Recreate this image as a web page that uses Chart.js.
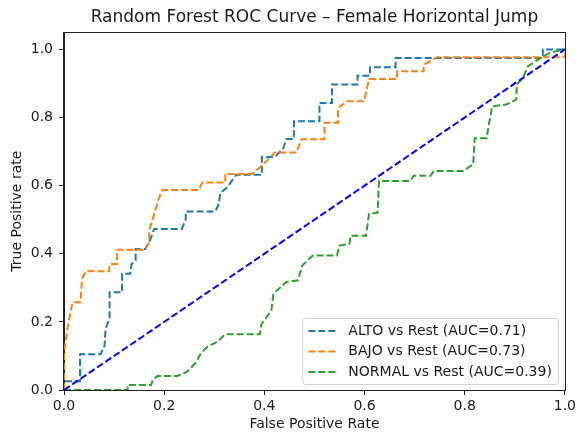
<!DOCTYPE html>
<html>
<head>
<meta charset="utf-8">
<script src="https://cdn.jsdelivr.net/npm/chart.js@4.4.1/dist/chart.umd.min.js"></script>
<style>
  html, body { margin: 0; padding: 0; background: #fff; }
  #wrap { width: 579px; height: 435px; }
</style>
</head>
<body>
<div id="wrap"><canvas id="roc" width="579" height="435"></canvas></div>
<script>
// ROC points
const altoFpr = [0,0,0.032,0.032,0.073,0.081,0.083,0.091,0.091,0.116,0.116,0.132,0.135,0.143,0.143,0.162,0.172,0.18,0.235,0.243,0.243,0.302,0.309,0.312,0.325,0.344,0.395,0.395,0.421,0.438,0.444,0.459,0.459,0.51,0.51,0.535,0.535,0.586,0.586,0.611,0.611,0.662,0.662,0.956,0.956,1];
const altoTpr = [0,0.026,0.026,0.105,0.105,0.13,0.18,0.21,0.287,0.287,0.341,0.341,0.37,0.38,0.414,0.414,0.44,0.473,0.473,0.5,0.524,0.524,0.546,0.578,0.594,0.632,0.632,0.684,0.684,0.711,0.737,0.737,0.789,0.789,0.843,0.843,0.897,0.897,0.923,0.923,0.948,0.948,0.975,0.975,1,1];

const bajoFpr = [0,0,0.008,0.017,0.033,0.036,0.044,0.09,0.091,0.106,0.106,0.162,0.17,0.17,0.19,0.197,0.269,0.276,0.322,0.322,0.375,0.391,0.421,0.464,0.474,0.52,0.52,0.547,0.547,0.566,0.599,0.609,0.665,0.665,0.718,0.718,0.745,1,1];
const bajoTpr = [0,0.108,0.19,0.258,0.258,0.327,0.349,0.349,0.37,0.37,0.412,0.412,0.434,0.468,0.565,0.587,0.587,0.609,0.609,0.634,0.634,0.653,0.697,0.697,0.736,0.736,0.785,0.785,0.828,0.848,0.848,0.913,0.913,0.936,0.936,0.955,0.977,0.977,1];

const normalFpr = [0,0.127,0.127,0.174,0.177,0.187,0.226,0.246,0.263,0.273,0.286,0.306,0.322,0.391,0.394,0.414,0.418,0.444,0.467,0.476,0.497,0.545,0.55,0.57,0.572,0.603,0.609,0.626,0.629,0.692,0.698,0.732,0.738,0.797,0.817,0.82,0.844,0.847,0.855,0.883,0.903,0.904,0.916,0.926,0.936,0.956,0.969,0.995,1];
const normalTpr = [0,0,0.015,0.015,0.029,0.041,0.041,0.054,0.08,0.107,0.127,0.141,0.164,0.164,0.193,0.234,0.283,0.317,0.322,0.366,0.395,0.395,0.424,0.429,0.453,0.453,0.517,0.521,0.614,0.614,0.629,0.629,0.643,0.643,0.663,0.739,0.739,0.77,0.833,0.838,0.853,0.897,0.916,0.95,0.96,0.979,0.989,1,1];

const chanceFpr = [0, 1];
const chanceTpr = [0, 1];

const classLabels = ['ALTO vs Rest (AUC=0.71)', 'BAJO vs Rest (AUC=0.73)', 'NORMAL vs Rest (AUC=0.39)'];
const yTicks = [0, 0.2, 0.4, 0.6, 0.8, 1.0];

const FONT = 'DejaVu Sans';
const DASH = [7, 3];
const TXT = '#1a1a1a';

function pts(xs, ys) {
    const out = [];
    const n = Math.min(xs.length, ys.length);
    for (let i = 0; i < n; i++) out.push({ x: xs[i], y: ys[i] });
    return out;
}

function curve(label, xs, ys, color, order) {
    return {
        label: label,
        data: pts(xs, ys),
        borderColor: color,
        backgroundColor: color,
        borderWidth: 2,
        borderDash: DASH,
        pointRadius: 0,
        tension: 0,
        fill: false,
        order: order
    };
}

// box around the axes (top and right spines) + legend in lower right
const framePlugin = {
    id: 'frame',
    afterLayout(chart) {
        // centre the title over the plot area, like matplotlib does
        const tb = chart.titleBlock;
        if (tb) {
            tb.left = chart.chartArea.left;
            tb.right = chart.chartArea.right;
            tb.width = tb.right - tb.left;
        }
    },
    afterDatasetsDraw(chart) {
        const ctx = chart.ctx;
        const ca = chart.chartArea;
        ctx.save();
        ctx.strokeStyle = '#222';
        ctx.lineWidth = 1;
        ctx.strokeRect(Math.round(ca.left) - 0.5, Math.round(ca.top) + 0.5,
                       Math.round(ca.right - ca.left) + 1, Math.round(ca.bottom - ca.top));

        // legend
        const items = chart.data.datasets.filter(d => !d.hideInLegend);
        ctx.font = '14px "' + FONT + '"';
        let tw = 0;
        items.forEach(d => { tw = Math.max(tw, ctx.measureText(d.label).width); });
        const rowH = 20.5;
        const w = 6 + 28 + 12 + tw + 6;
        const h = items.length * rowH + 4.5;
        const right = ca.right - 7, bottom = ca.bottom - 6;
        const left = right - w, top = bottom - h;
        ctx.beginPath();
        ctx.roundRect(left + 0.5, top + 0.5, w, h, 3);
        ctx.fillStyle = 'rgba(255,255,255,0.8)';
        ctx.fill();
        ctx.strokeStyle = '#d0d0d0';
        ctx.stroke();
        items.forEach((d, i) => {
            const y = top + 13 + i * rowH;
            ctx.beginPath();
            ctx.setLineDash(DASH);
            ctx.lineWidth = 2;
            ctx.strokeStyle = d.borderColor;
            ctx.moveTo(left + 6, y);
            ctx.lineTo(left + 34, y);
            ctx.stroke();
            ctx.setLineDash([]);
            ctx.fillStyle = TXT;
            ctx.textBaseline = 'middle';
            ctx.textAlign = 'left';
            ctx.fillText(d.label, left + 46, y);
        });
        ctx.restore();
    }
};

const chanceSet = curve('chance', chanceFpr, chanceTpr, '#0000ff', 0);
chanceSet.hideInLegend = true;

new Chart(document.getElementById('roc'), {
    type: 'line',
    data: {
        datasets: [
            curve(classLabels[0], altoFpr, altoTpr, '#1f77b4', 3),
            curve(classLabels[1], bajoFpr, bajoTpr, '#ff7f0e', 2),
            curve(classLabels[2], normalFpr, normalTpr, '#2ca02c', 1),
            chanceSet
        ]
    },
    options: {
        responsive: false,
        animation: false,
        layout: { padding: { left: 0, right: 10, top: 0, bottom: 0 } },
        plugins: {
            legend: { display: false },
            tooltip: { enabled: false },
            title: {
                display: true,
                text: 'Random Forest ROC Curve – Female Horizontal Jump',
                color: TXT,
                font: { family: FONT, size: 17, weight: 'normal' },
                padding: { top: 7, bottom: 5 }
            }
        },
        scales: {
            x: {
                type: 'linear',
                min: 0,
                max: 1,
                border: { display: true, color: '#222', width: 1 },
                grid: { drawOnChartArea: false, drawTicks: true, tickLength: 5, color: '#222' },
                ticks: {
                    stepSize: 0.2,
                    padding: 3,
                    color: TXT,
                    font: { family: FONT, size: 14 },
                    maxRotation: 0,
                    callback: v => v.toFixed(1)
                },
                title: {
                    display: true,
                    text: 'False Positive Rate',
                    color: TXT,
                    font: { family: FONT, size: 14 },
                    padding: { top: 0, bottom: 2 }
                },
                afterFit: s => { s.height = 45; }
            },
            y: {
                type: 'linear',
                min: 0,
                max: 1.05,
                border: { display: true, color: '#222', width: 1 },
                grid: { drawOnChartArea: false, drawTicks: true, tickLength: 5, color: '#222' },
                afterBuildTicks: s => { s.ticks = yTicks.map(v => ({ value: v })); },
                ticks: {
                    padding: 6,
                    color: TXT,
                    font: { family: FONT, size: 14 },
                    callback: v => Number(v).toFixed(1)
                },
                title: {
                    display: true,
                    text: 'True Positive rate',
                    color: TXT,
                    font: { family: FONT, size: 14 },
                    padding: { top: 9, bottom: 0 }
                },
                afterFit: s => { s.width = 64; }
            }
        }
    },
    plugins: [framePlugin]
});
</script>
</body>
</html>
